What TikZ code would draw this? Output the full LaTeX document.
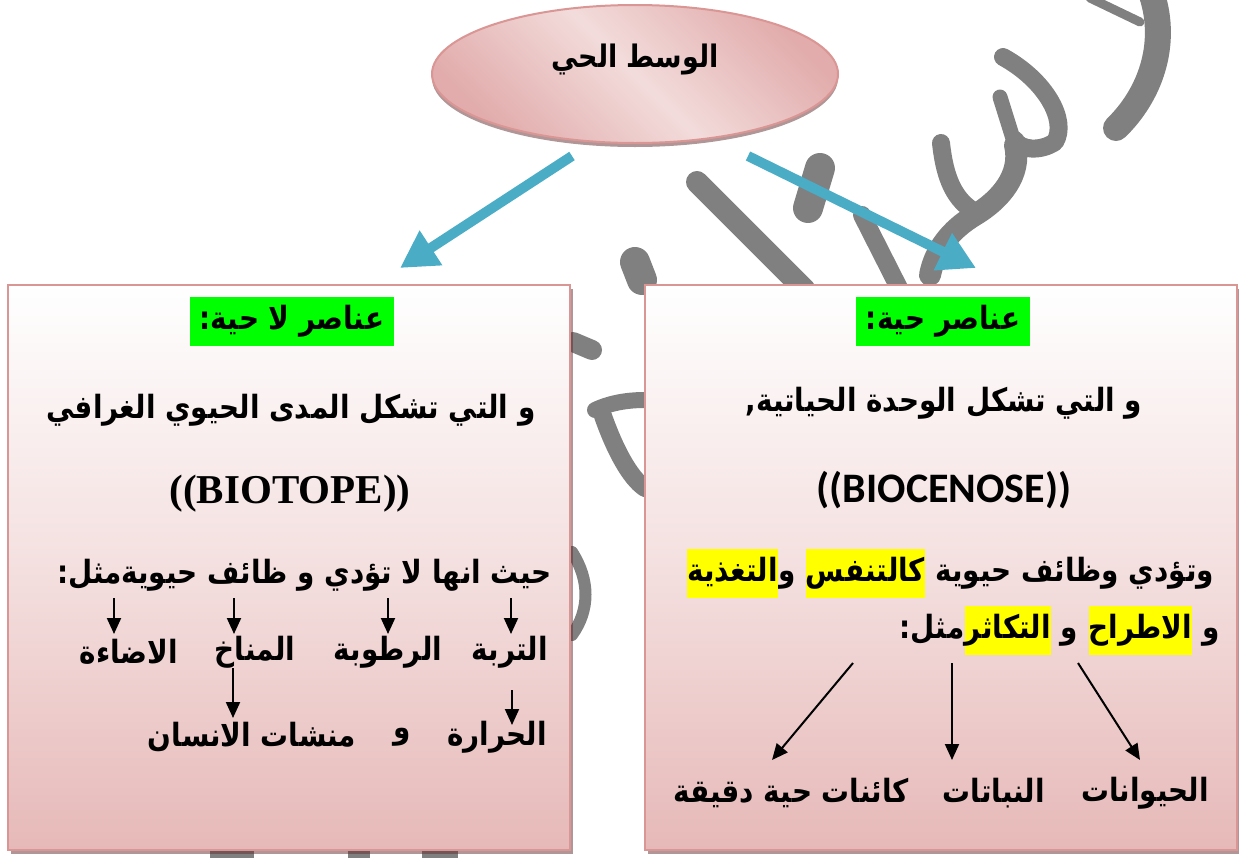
\documentclass[tikz,border=0pt]{standalone}
\usepackage{fontspec}
\setmainfont{Liberation Serif}
\newfontfamily\arabicfont[Script=Arabic, FakeStretch=0.87]{DejaVu Sans}
\newfontfamily\calibrifont{Carlito}
\TeXXeTstate=1
\usetikzlibrary{positioning, shapes.geometric, arrows.meta, shadows}

\definecolor{boxline}{HTML}{D99694}
\definecolor{boxpink}{HTML}{E6B9B8}
\definecolor{ellpink}{HTML}{E2ACAC}
\definecolor{elllight}{HTML}{F2DCDB}
\definecolor{arrowblue}{HTML}{4BACC6}
\definecolor{hlgreen}{HTML}{00FF00}
\definecolor{hlyellow}{HTML}{FFFF00}
\definecolor{wmgray}{HTML}{808080}
\definecolor{shadowc}{RGB}{97,45,45}

\newcommand{\artxt}[1]{\beginR #1\endR}

\begin{document}
\begin{tikzpicture}[x=1pt, y=-1pt,
  box/.style={draw=boxline, line width=2pt, top color=white, bottom color=boxpink,
    middle color=boxpink!45, inner sep=0pt, minimum height=565pt,
    drop shadow={shadow xshift=3pt, shadow yshift=-4pt, fill=shadowc, opacity=.5}},
  rootell/.style={ellipse, draw=boxline, line width=2pt, minimum width=406pt,
    minimum height=138pt, left color=ellpink, right color=ellpink,
    middle color=elllight, shading angle=-45,
    drop shadow={shadow xshift=0pt, shadow yshift=-4pt, fill=shadowc, opacity=.5}},
  artext/.style={font=\arabicfont\bfseries\fontsize{32}{36}\selectfont, inner sep=0pt},
  hltext/.style={artext, fill=hlyellow, text height=32pt, text depth=17pt},
  title/.style={font=\arabicfont\bfseries\fontsize{31}{36}\selectfont, inner sep=0pt},
  header/.style={artext, fill=hlgreen, minimum height=49pt, inner xsep=10pt},
  latin/.style={font=\bfseries\fontsize{41}{48}\selectfont, inner sep=0pt},
  sanslatin/.style={font=\calibrifont\bfseries\fontsize{42}{48}\selectfont, inner sep=0pt},
  bigarrow/.style={draw=arrowblue, line width=10pt, -{Triangle[length=37pt, width=39pt]}},
  smallarrow/.style={draw=black, line width=2pt, -{Triangle[length=16pt, width=14pt]}},
  wm/.style={draw=wmgray, line cap=round, line join=round}]

  \useasboundingbox (0,0) rectangle (1239,857);

  % watermark
  \draw[wm, line width=9pt] (1090,-2) -- (1140,22);
  \draw[wm, line width=26pt] (1152,-5) .. controls (1168,45) and (1150,95) .. (1116,128);
  \draw[wm, line width=18pt] (1003,57) .. controls (1045,80) and (1068,120) .. (1055,142)
    .. controls (1040,152) and (1020,150) .. (1015,140);
  \draw[wm, line width=15pt] (1000,97) -- (1015,145);
  \draw[wm, line width=22pt] (1015,145) .. controls (1022,175) and (1000,200) .. (975,215)
    .. controls (950,230) and (935,250) .. (930,275);
  \draw[wm, line width=18pt] (941,143) .. controls (945,180) and (955,200) .. (975,212);
  \draw[wm, line width=18pt] (862,215) -- (900,290);
  \draw[wm, line width=30pt] (820,168) -- (808,208);
  \draw[wm, line width=22pt] (697,182) -- (805,290);
  \draw[wm, line width=30pt] (635,262) -- (642,280);
  \draw[wm, line width=20pt] (573,342) -- (592,350);
  \draw[wm, line width=16pt] (595,410) .. controls (612,402) and (630,400) .. (645,400);
  \draw[wm, line width=18pt] (603,416) .. controls (615,450) and (630,478) .. (645,488);
  \draw[wm, line width=12pt] (572,552) .. controls (590,580) and (590,610) .. (572,635);
  \draw[wm, line width=44pt] (232,840) -- (232,870);
  \draw[wm, line width=22pt] (359,840) -- (359,870);
  \draw[wm, line width=36pt] (440,840) -- (440,870);

  % root
  \node[rootell] (root) at (635,74) {};
  \node[title] (roottxt) at (635,60) {\artxt{الوسط الحي}};

  % boxes
  \node[box, minimum width=562pt] (abio) at (289,567) {};
  \node[box, minimum width=592pt] (bio) at (941,567) {};

  % blue arrows
  \coordinate (la0) at (572,156);
  \coordinate (la1) at (400,268);
  \coordinate (ra0) at (748,156);
  \coordinate (ra1) at (976,268);
  \draw[bigarrow] (la0) -- (la1);
  \draw[bigarrow] (ra0) -- (ra1);

  % abiotic box
  \node[header] (abiohead) at (292,321) {\artxt{عناصر لا حية:}};
  \node[artext] (abioline) at (291,410) {\artxt{و التي تشكل المدى الحيوي الغرافي}};
  \node[latin] (biotope) at (290,494) {((BIOTOPE))};
  \node[artext, anchor=east] (abiofunc) at (552,575) {\artxt{حيث انها لا تؤدي و ظائف حيويةمثل:}};
  \node[artext] (soil) at (510,652) {\artxt{التربة}};
  \node[artext] (humid) at (388,652) {\artxt{الرطوبة}};
  \node[artext] (climate) at (255,652) {\artxt{المناخ}};
  \node[artext] (light) at (129,652) {\artxt{الاضاءة}};
  \node[artext] (heat) at (497,737) {\artxt{الحرارة}};
  \node[artext] (andw) at (402,737) {\artxt{و}};
  \node[artext] (human) at (252,737) {\artxt{منشات الانسان}};

  \coordinate (ta) at (114,598);
  \coordinate (ha) at (114,634);
  \coordinate (tb) at (234,598);
  \coordinate (hb) at (234,634);
  \coordinate (tc) at (388,598);
  \coordinate (hc) at (388,634);
  \coordinate (td) at (511,598);
  \coordinate (hd) at (511,634);
  \coordinate (te) at (233,668);
  \coordinate (he) at (233,718);
  \coordinate (tf) at (512,690);
  \coordinate (hf) at (512,725);
  \draw[smallarrow] (ta) -- (ha);
  \draw[smallarrow] (tb) -- (hb);
  \draw[smallarrow] (tc) -- (hc);
  \draw[smallarrow] (td) -- (hd);
  \draw[smallarrow] (te) -- (he);
  \draw[smallarrow] (tf) -- (hf);

  % biotic box
  \node[header] (biohead) at (943,321) {\artxt{عناصر حية:}};
  \node[artext] (bioline) at (944,403) {\artxt{و التي تشكل الوحدة الحياتية,}};
  \node[sanslatin] (biocenose) at (944,490) {((BIOCENOSE))};

  \node[artext, anchor=base east] (funca) at (1214,581) {\artxt{وتؤدي وظائف حيوية}};
  \node[hltext, base left=10pt of funca] (breath) {\artxt{كالتنفس}};
  \node[artext, base left=10pt of breath] (funcb) {\artxt{و}};
  \node[hltext, base left=0pt of funcb] (food) {\artxt{التغذية}};

  \node[artext, anchor=base east] (funcc) at (1220,638) {\artxt{و}};
  \node[hltext, base left=10pt of funcc] (excrete) {\artxt{الاطراح}};
  \node[artext, base left=10pt of excrete] (funcd) {\artxt{و}};
  \node[hltext, base left=10pt of funcd] (breed) {\artxt{التكاثر}};
  \node[artext, base left=0pt of breed] (funce) {\artxt{مثل:}};

  \node[artext] (animals) at (1145,793) {\artxt{الحيوانات}};
  \node[artext] (plants) at (994,793) {\artxt{النباتات}};
  \node[artext] (microbes) at (791,793) {\artxt{كائنات حية دقيقة}};

  \coordinate (sa) at (853,663);
  \coordinate (ea) at (772,760);
  \coordinate (sb) at (952,663);
  \coordinate (eb) at (952,760);
  \coordinate (sc) at (1078,663);
  \coordinate (ec) at (1140,760);
  \draw[smallarrow] (sa) -- (ea);
  \draw[smallarrow] (sb) -- (eb);
  \draw[smallarrow] (sc) -- (ec);
\end{tikzpicture}
\end{document}
